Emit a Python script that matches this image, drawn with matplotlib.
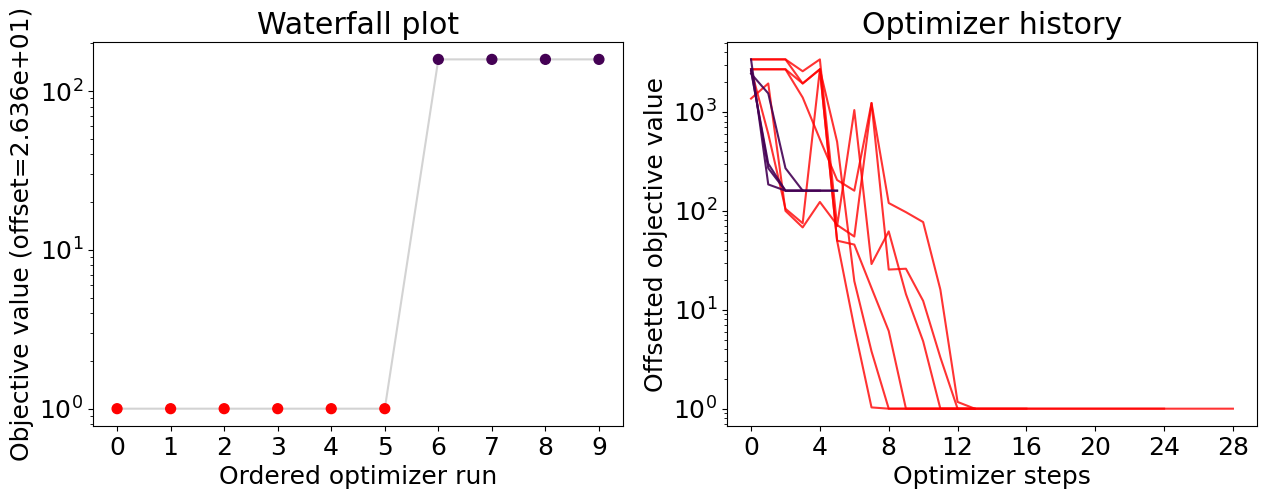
import numpy as np
import matplotlib
matplotlib.use('Agg')
import matplotlib.pyplot as plt

# waterfall values (already offsetted), sorted
run_ids = [0, 1, 2, 3, 4, 5, 6, 7, 8, 9]
waterfall_vals = [1.0, 1.0, 1.0, 1.0, 1.0, 1.0, 158.6, 158.6, 158.6, 158.6]
waterfall_cluster = [0, 0, 0, 0, 0, 0, 1, 1, 1, 1]

# optimizer histories, offsetted objective values per step
red_hist = [
    [1365, 1940, 100, 68, 123, 72, 55, 1230, 120, 97, 77, 16, 1.17, 1.0],
    [2700, 2700, 2700, 1400, 530, 205, 160, 1230, 25.5, 26, 12.3, 3.3, 1.0,
     1.0, 1.0, 1.0, 1.0, 1.0, 1.0, 1.0, 1.0, 1.0, 1.0, 1.0, 1.0, 1.0, 1.0, 1.0, 1.0],
    [3400, 3400, 3400, 2580, 3400, 70, 1045, 29, 62, 14.4, 4.8, 1.0, 1.0],
    [2700, 600, 105, 75, 2700, 50, 6.6, 1.03, 1.0, 1.0, 1.0, 1.0, 1.0, 1.0, 1.0, 1.0, 1.0],
    [3400, 3400, 3400, 1940, 2700, 50, 45.6, 16.6, 6.1, 1.0,
     1.0, 1.0, 1.0, 1.0, 1.0, 1.0, 1.0, 1.0, 1.0, 1.0, 1.0, 1.0, 1.0, 1.0, 1.0],
    [2700, 2700, 2700, 1940, 2700, 500, 19.5, 3.8, 1.0, 1.0, 1.0, 1.0, 1.0, 1.0],
]
purple_hist = [
    [2440, 1540, 270, 160, 160, 160],
    [3400, 185, 160, 160, 160],
    [2700, 270, 160, 160, 160, 160],
    [2600, 300, 160, 160],
]

red = (1.0, 0.0, 0.0)
purple = '#440154'

plt.rcParams['font.size'] = 18

fig, (ax1, ax2) = plt.subplots(1, 2, figsize=(12.65, 4.99), dpi=100)
fig.subplots_adjust(left=0.0735, right=0.9937, top=0.916, bottom=0.146, wspace=0.196)

# waterfall
ax1.plot(run_ids, waterfall_vals, color='lightgrey', zorder=1)
cols = [red if c == 0 else purple for c in waterfall_cluster]
ax1.scatter(run_ids, waterfall_vals, c=cols, s=50, zorder=2)
ax1.set_yscale('log')
ax1.set_xticks(run_ids)
ax1.set_title('Waterfall plot')
ax1.set_xlabel('Ordered optimizer run')
ax1.set_ylabel('Objective value (offset=2.636e+01)')

# history
for h in red_hist:
    ax2.plot(range(len(h)), h, color=red, alpha=0.8)
for h in purple_hist:
    ax2.plot(range(len(h)), h, color=purple, alpha=0.9)
ax2.set_yscale('log')
ax2.set_xticks(range(0, 29, 4))
ax2.set_title('Optimizer history')
ax2.set_xlabel('Optimizer steps')
ax2.set_ylabel('Offsetted objective value')

fig.savefig('out.png')
